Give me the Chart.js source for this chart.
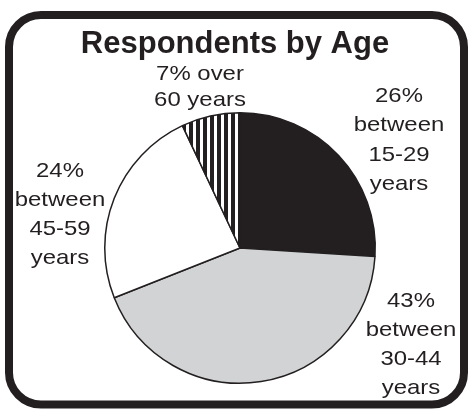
<!DOCTYPE html>
<html>
<head>
<meta charset="utf-8">
<script src="https://cdn.jsdelivr.net/npm/chart.js@4.4.1/dist/chart.umd.min.js"></script>
<style>
  html, body { margin: 0; padding: 0; background: #ffffff; }
  #wrap { width: 468px; height: 409px; position: relative; }
</style>
</head>
<body>
<div id="wrap"><canvas id="c" width="468" height="409"></canvas></div>
<script>
// ---- data ----
const chartTitle = 'Respondents by Age';
const categories = ['15-29', '30-44', '45-59', 'over 60'];
const shares = [26, 43, 24, 7];
const labelTexts = [
  [shares[0] + '%', 'between', '15-29', 'years'],
  [shares[1] + '%', 'between', '30-44', 'years'],
  [shares[2] + '%', 'between', '45-59', 'years'],
  [shares[3] + '% over', '60 years']
];

const INK = '#231f20';

function stripePattern() {
  const p = document.createElement('canvas');
  p.width = 7; p.height = 4;
  const g = p.getContext('2d');
  g.fillStyle = '#ffffff'; g.fillRect(0, 0, 7, 4);
  g.fillStyle = INK; g.fillRect(0, 0, 4, 4);
  return g.createPattern(p, 'repeat');
}

const decor = {
  id: 'decor',
  beforeDraw(chart) {
    const ctx = chart.ctx;
    ctx.save();
    ctx.fillStyle = '#ffffff';
    ctx.fillRect(0, 0, chart.width, chart.height);
    ctx.strokeStyle = INK;
    ctx.lineWidth = 8;
    ctx.beginPath();
    ctx.roundRect(9, 15, 455, 389.5, 32);
    ctx.stroke();
    // title
    ctx.fillStyle = INK;
    ctx.font = 'bold 31px "Liberation Sans", Arial, sans-serif';
    ctx.textAlign = 'center';
    ctx.textBaseline = 'alphabetic';
    ctx.fillText(chartTitle, 235, 53);
    ctx.restore();
  },
  afterDraw(chart) {
    const ctx = chart.ctx;
    const spots = [
      { x: 399, y: 101.5, lh: 29.5 },
      { x: 411, y: 307, lh: 29 },
      { x: 60, y: 177, lh: 29 },
      { x: 200, y: 80, lh: 26 }
    ];
    ctx.save();
    ctx.fillStyle = INK;
    ctx.font = '21px "Liberation Sans", Arial, sans-serif';
    ctx.textAlign = 'center';
    ctx.textBaseline = 'alphabetic';
    labelTexts.forEach((lines, i) => {
      const s = spots[i];
      lines.forEach((ln, j) => {
        ctx.save();
        ctx.translate(s.x, s.y + j * s.lh);
        ctx.scale(1.14, 1);
        ctx.fillText(ln, 0, 0);
        ctx.restore();
      });
    });
    ctx.restore();
  }
};

new Chart(document.getElementById('c'), {
  type: 'pie',
  data: {
    labels: categories,
    datasets: [{
      data: shares,
      backgroundColor: [INK, '#d1d3d4', '#ffffff', stripePattern()],
      borderColor: INK,
      borderWidth: 1.5,
      borderAlign: 'center'
    }]
  },
  options: {
    responsive: false,
    animation: false,
    devicePixelRatio: 1,
    layout: { padding: { left: 104, right: 92, top: 112, bottom: 25 } },
    plugins: {
      legend: { display: false },
      tooltip: { enabled: false },
      title: { display: false }
    }
  },
  plugins: [decor]
});
</script>
</body>
</html>
